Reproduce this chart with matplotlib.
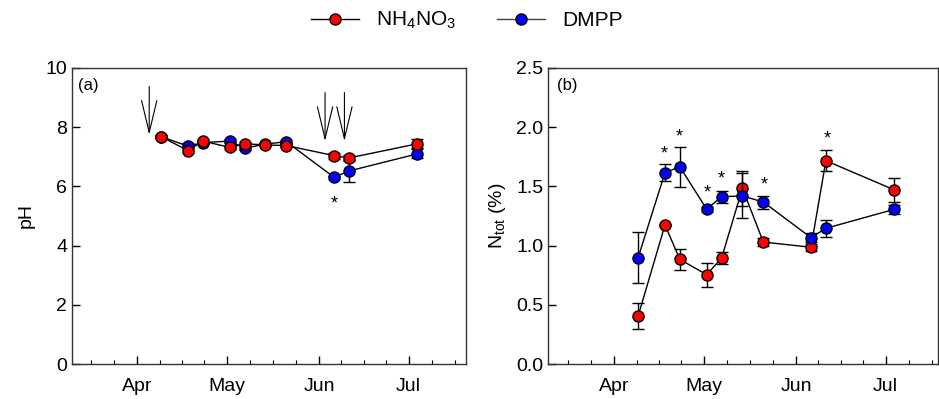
import numpy as np
import matplotlib
matplotlib.use("Agg")
import matplotlib.pyplot as plt
from matplotlib.ticker import FixedLocator

plt.rcParams["font.family"] = ["Liberation Sans", "DejaVu Sans"]
plt.rcParams["mathtext.fontset"] = "custom"
plt.rcParams["mathtext.rm"] = "Liberation Sans"
plt.rcParams["mathtext.it"] = "Liberation Sans"

# sampling dates as day of year
days = [99, 108, 113, 122, 127, 134, 141, 157, 162, 185]

# (a) soil pH
ph_nh4 = [7.68, 7.21, 7.53, 7.32, 7.44, 7.40, 7.38, 7.04, 6.96, 7.44]
ph_nh4_err = [0.05, 0.08, 0.06, 0.06, 0.05, 0.05, 0.06, 0.10, 0.10, 0.15]
ph_dmpp = [7.68, 7.36, 7.48, 7.53, 7.29, 7.43, 7.51, 6.31, 6.52, 7.10]
ph_dmpp_err = [0.05, 0.10, 0.06, 0.08, 0.06, 0.05, 0.06, 0.05, 0.38, 0.15]

# fertilisation dates (arrows) and significance marks
arrow_days = [95, 154, 160.5]
arrow_top = [9.37, 9.17, 9.17]
arrow_bot = [7.74, 7.53, 7.53]
ph_star_days = [157]
ph_star_y = [5.4]

# (b) total N
n_nh4 = [0.405, 1.174, 0.884, 0.754, 0.895, 1.484, 1.030, 0.986, 1.717, 1.470]
n_nh4_err = [0.11, 0.01, 0.09, 0.10, 0.05, 0.15, 0.03, 0.03, 0.09, 0.10]
n_dmpp = [0.898, 1.616, 1.666, 1.307, 1.413, 1.419, 1.368, 1.067, 1.146, 1.307]
n_dmpp_err = [0.215, 0.07, 0.17, 0.02, 0.05, 0.19, 0.055, 0.04, 0.07, 0.04]
n_star_days = [107.7, 112.7, 122.3, 126.8, 141.3, 162.4]
n_star_y = [1.771, 1.915, 1.442, 1.56, 1.514, 1.898]

month_days = [91, 121, 152, 182]
month_labels = ["Apr", "May", "Jun", "Jul"]
month_edges = [60, 91, 121, 152, 182, 213]

RED = "#ff0000"
BLUE = "#0000ff"

fig = plt.figure(figsize=(9.39, 3.99), dpi=100)
ax1 = fig.add_axes([0.0767, 0.0877, 0.4196, 0.7419])
ax2 = fig.add_axes([0.5839, 0.0877, 0.4150, 0.7419])

minor = []
for a, b in zip(month_edges[:-1], month_edges[1:]):
    minor += list(np.linspace(a, b, 5)[1:-1])


def series(ax, x, y, err, color, z):
    ax.errorbar(x, y, yerr=err, fmt="none", ecolor="black", elinewidth=1.0,
                capsize=4, capthick=1.0, zorder=z)
    ax.plot(x, y, "-", color="black", lw=1.0, zorder=z + 0.1)
    ax.plot(x, y, "o", ms=8, mfc=color, mec="black", mew=1.0, zorder=z + 0.2)


def style(ax):
    ax.xaxis.set_major_locator(FixedLocator(month_days))
    ax.set_xticklabels(month_labels)
    ax.xaxis.set_minor_locator(FixedLocator(minor))
    ax.tick_params(axis="both", which="major", direction="in", length=6,
                   width=1.0, labelsize=14, top=False, right=False)
    ax.tick_params(axis="x", which="major", pad=10)
    ax.tick_params(axis="x", which="minor", direction="in", length=3, width=0.8)
    for s in ax.spines.values():
        s.set_linewidth(1.0)
        s.set_color("#333333")


# panel (a)
series(ax1, days, ph_dmpp, ph_dmpp_err, BLUE, 2)
series(ax1, days, ph_nh4, ph_nh4_err, RED, 3)
for d, t, b in zip(arrow_days, arrow_top, arrow_bot):
    ax1.annotate("", xy=(d, b), xytext=(d, t),
                 arrowprops=dict(arrowstyle="->,head_length=2.3,head_width=0.55",
                                 lw=0.8, color="black", mutation_scale=10,
                                 shrinkA=0, shrinkB=0))
for d, v in zip(ph_star_days, ph_star_y):
    ax1.text(d, v, "*", ha="center", va="center", fontsize=13)
ax1.set_xlim(69.1, 201.3)
ax1.set_ylim(0, 10)
ax1.set_yticks([0, 2, 4, 6, 8, 10])
ax1.set_ylabel("pH", fontsize=14, labelpad=8)
ax1.text(0.015, 0.966, "(a)", transform=ax1.transAxes, ha="left", va="top",
         fontsize=12)
style(ax1)

# panel (b)
series(ax2, days, n_nh4, n_nh4_err, RED, 2)
series(ax2, days, n_dmpp, n_dmpp_err, BLUE, 3)
for d, v in zip(n_star_days, n_star_y):
    ax2.text(d, v, "*", ha="center", va="center", fontsize=13)
ax2.set_xlim(68.85, 199.6)
ax2.set_ylim(0, 2.5)
ax2.set_yticks([0.0, 0.5, 1.0, 1.5, 2.0, 2.5])
ax2.set_yticklabels(["0.0", "0.5", "1.0", "1.5", "2.0", "2.5"])
ax2.set_ylabel("N$_{\\mathrm{tot}}$ (%)", fontsize=14, labelpad=6)
ax2.text(0.022, 0.965, "(b)", transform=ax2.transAxes, ha="left", va="top",
         fontsize=12)
style(ax2)

# legend
h1, = ax1.plot([], [], "-o", color="black", lw=1.0, ms=8, mfc=RED, mec="black")
h2, = ax1.plot([], [], "-o", color="#444444", lw=1.0, ms=8, mfc=BLUE, mec="black")
fig.legend([h1, h2], ["NH$_4$NO$_3$", "DMPP"], loc="center",
           bbox_to_anchor=(0.497, 0.948), ncol=2, frameon=False, fontsize=15,
           handlelength=2.3, columnspacing=2.0, handletextpad=0.8)

fig.savefig("out.png", dpi=100)
